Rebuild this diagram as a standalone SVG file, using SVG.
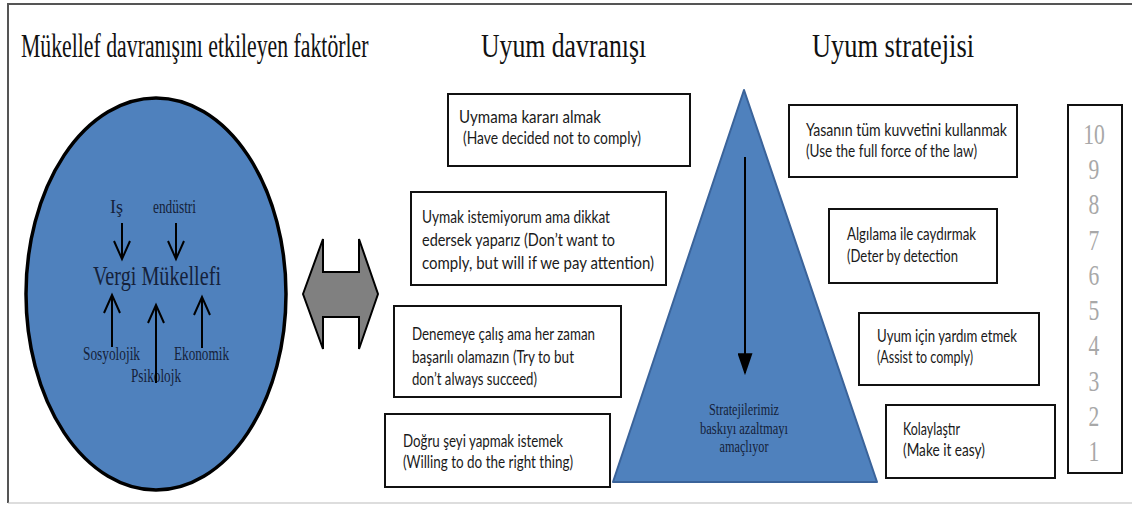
<svg xmlns="http://www.w3.org/2000/svg" width="1132" height="508" viewBox="0 0 1132 508">
  <defs>
    <style>
      .title { font-family: "Liberation Serif", "Times New Roman", serif; font-size: 33px; fill: #111; }
      .inner { font-family: "Liberation Serif", "Times New Roman", serif; fill: #15213a; }
      .box { fill: #fff; stroke: #111; stroke-width: 2; }
      .btxt { font-family: Lato, "Liberation Sans", Arial, sans-serif; font-size: 16.5px; fill: #1a1a1a; }
      .arrow { fill: none; stroke: #000; stroke-width: 2; }
      .num { font-family: "Liberation Serif", "Times New Roman", serif; font-size: 30px; fill: #a8a8a8; text-anchor: middle; }
    </style>
    <marker id="tri" viewBox="0 0 10 10" refX="9" refY="5" markerWidth="22" markerHeight="15" markerUnits="userSpaceOnUse" orient="auto" preserveAspectRatio="none">
      <path d="M0,0 L10,5 L0,10 z" fill="#000"/>
    </marker>
  </defs>

  <rect width="1132" height="508" fill="#fff"/>
  <!-- outer frame -->
  <path d="M8,503 L8,4 L1132,4" fill="none" stroke="#555" stroke-width="2"/>
  <path d="M8,503 L1132,503" fill="none" stroke="#bbb" stroke-width="1"/>

  <!-- column headings (condensed serif) -->
  <g id="headings">
    <text class="title" transform="translate(21,57) scale(0.66,1)">Mükellef davranışını etkileyen faktörler</text>
    <text class="title" transform="translate(481,57) scale(0.78,1)">Uyum davranışı</text>
    <text class="title" transform="translate(812,57) scale(0.80,1)">Uyum stratejisi</text>
  </g>

  <!-- taxpayer factors ellipse -->
  <g id="factors">
    <ellipse cx="156" cy="294" rx="130" ry="196" fill="#4f81bd" stroke="#000" stroke-width="3.5"/>
    <text class="inner" x="110" y="213" font-size="18">Iş</text>
    <text class="inner" x="153" y="213" font-size="18" textLength="43" lengthAdjust="spacingAndGlyphs">endüstri</text>
    <text class="inner" x="93" y="285" font-size="27" textLength="128" lengthAdjust="spacingAndGlyphs">Vergi Mükellefi</text>
    <text class="inner" x="83" y="360" font-size="18" textLength="57" lengthAdjust="spacingAndGlyphs">Sosyolojik</text>
    <text class="inner" x="174" y="360" font-size="18" textLength="55" lengthAdjust="spacingAndGlyphs">Ekonomik</text>
    <text class="inner" x="131" y="382" font-size="18" textLength="50" lengthAdjust="spacingAndGlyphs">Psikolojk</text>
    <!-- influence arrows -->
    <path class="arrow" d="M122,223 L122,259 M114,241 L122,259 L130,241"/>
    <path class="arrow" d="M176,223 L176,259 M168,241 L176,259 L184,241"/>
    <path class="arrow" d="M112,347 L112,295 M104,313 L112,295 L120,313"/>
    <path class="arrow" d="M156,383 L156,305 M148,323 L156,305 L164,323"/>
    <path class="arrow" d="M202,348 L202,297 M194,315 L202,297 L210,315"/>
  </g>

  <!-- two-way link -->
  <g id="link">
    <path d="M303,294 L323,239 L323,272 L359,272 L359,239 L378,294 L359,349 L359,317 L323,317 L323,349 Z" fill="#808080" stroke="#000" stroke-width="2" stroke-linejoin="miter"/>
  </g>

  <!-- compliance behaviour boxes -->
  <g id="behaviour-1">
    <rect class="box" x="448" y="94" width="242" height="72"/>
    <text class="btxt" x="459" y="123" textLength="142" lengthAdjust="spacingAndGlyphs">Uymama kararı almak</text>
    <text class="btxt" x="463" y="144" textLength="178" lengthAdjust="spacingAndGlyphs">(Have decided not to comply)</text>
  </g>
  <g id="behaviour-2">
    <rect class="box" x="411" y="192" width="255" height="93"/>
    <text class="btxt" x="422" y="223" textLength="188" lengthAdjust="spacingAndGlyphs">Uymak istemiyorum ama dikkat</text>
    <text class="btxt" x="422" y="246" textLength="193" lengthAdjust="spacingAndGlyphs">edersek yaparız (Don’t want to</text>
    <text class="btxt" x="422" y="269" textLength="232" lengthAdjust="spacingAndGlyphs">comply, but will if we pay attention)</text>
  </g>
  <g id="behaviour-3">
    <rect class="box" x="394" y="306" width="227" height="91"/>
    <text class="btxt" x="412" y="340" textLength="183" lengthAdjust="spacingAndGlyphs">Denemeye çalış ama her zaman</text>
    <text class="btxt" x="412" y="363" textLength="162" lengthAdjust="spacingAndGlyphs">başarılı olamazın (Try to but</text>
    <text class="btxt" x="412" y="385" textLength="125" lengthAdjust="spacingAndGlyphs">don’t always succeed)</text>
  </g>
  <g id="behaviour-4">
    <rect class="box" x="385" y="414" width="225" height="73"/>
    <text class="btxt" x="403" y="447" textLength="160" lengthAdjust="spacingAndGlyphs">Doğru şeyi yapmak istemek</text>
    <text class="btxt" x="403" y="468" textLength="170" lengthAdjust="spacingAndGlyphs">(Willing to do the right thing)</text>
  </g>

  <!-- pressure pyramid -->
  <g id="pyramid">
    <path d="M744,90 L877,482 L613,482 Z" fill="#4f81bd" stroke="#3a639a" stroke-width="2" stroke-linejoin="round"/>
    <text class="inner" x="744" y="415" font-size="16" text-anchor="middle" textLength="70" lengthAdjust="spacingAndGlyphs" fill="#1f2d50">Stratejilerimiz</text>
    <text class="inner" x="744" y="434" font-size="16" text-anchor="middle" textLength="88" lengthAdjust="spacingAndGlyphs" fill="#1f2d50">baskıyı azaltmayı</text>
    <text class="inner" x="744" y="452" font-size="16" text-anchor="middle" textLength="49" lengthAdjust="spacingAndGlyphs" fill="#1f2d50">amaçlıyor</text>
  </g>

  <!-- connectors -->
  <g id="connectors">
    <path d="M745,157 L745,373" stroke="#000" stroke-width="2" fill="none" marker-end="url(#tri)"/>
  </g>

  <!-- compliance strategy boxes -->
  <g id="strategy-1">
    <rect class="box" x="789" y="105" width="228" height="72"/>
    <text class="btxt" x="806" y="136" textLength="201" lengthAdjust="spacingAndGlyphs">Yasanın tüm kuvvetini kullanmak</text>
    <text class="btxt" x="806" y="157" textLength="171" lengthAdjust="spacingAndGlyphs">(Use the full force of the law)</text>
  </g>
  <g id="strategy-2">
    <rect class="box" x="829" y="209" width="168" height="74"/>
    <text class="btxt" x="847" y="240" textLength="129" lengthAdjust="spacingAndGlyphs">Algılama ile caydırmak</text>
    <text class="btxt" x="847" y="262" textLength="111" lengthAdjust="spacingAndGlyphs">(Deter by detection</text>
  </g>
  <g id="strategy-3">
    <rect class="box" x="859" y="313" width="180" height="72"/>
    <text class="btxt" x="877" y="342" textLength="140" lengthAdjust="spacingAndGlyphs">Uyum için yardım etmek</text>
    <text class="btxt" x="877" y="363" textLength="96" lengthAdjust="spacingAndGlyphs">(Assist to comply)</text>
  </g>
  <g id="strategy-4">
    <rect class="box" x="886" y="405" width="169" height="73"/>
    <text class="btxt" x="903" y="435" textLength="57" lengthAdjust="spacingAndGlyphs">Kolaylaştır</text>
    <text class="btxt" x="903" y="456" textLength="82" lengthAdjust="spacingAndGlyphs">(Make it easy)</text>
  </g>

  <!-- pressure scale -->
  <g id="scale">
    <rect class="box" x="1068" y="105" width="54" height="368"/>
    <g transform="translate(1094,0) scale(0.72,1)">
      <text class="num" x="0" y="144">10</text>
      <text class="num" x="0" y="179">9</text>
      <text class="num" x="0" y="214">8</text>
      <text class="num" x="0" y="250">7</text>
      <text class="num" x="0" y="285">6</text>
      <text class="num" x="0" y="320">5</text>
      <text class="num" x="0" y="355">4</text>
      <text class="num" x="0" y="391">3</text>
      <text class="num" x="0" y="426">2</text>
      <text class="num" x="0" y="461">1</text>
    </g>
  </g>
</svg>
